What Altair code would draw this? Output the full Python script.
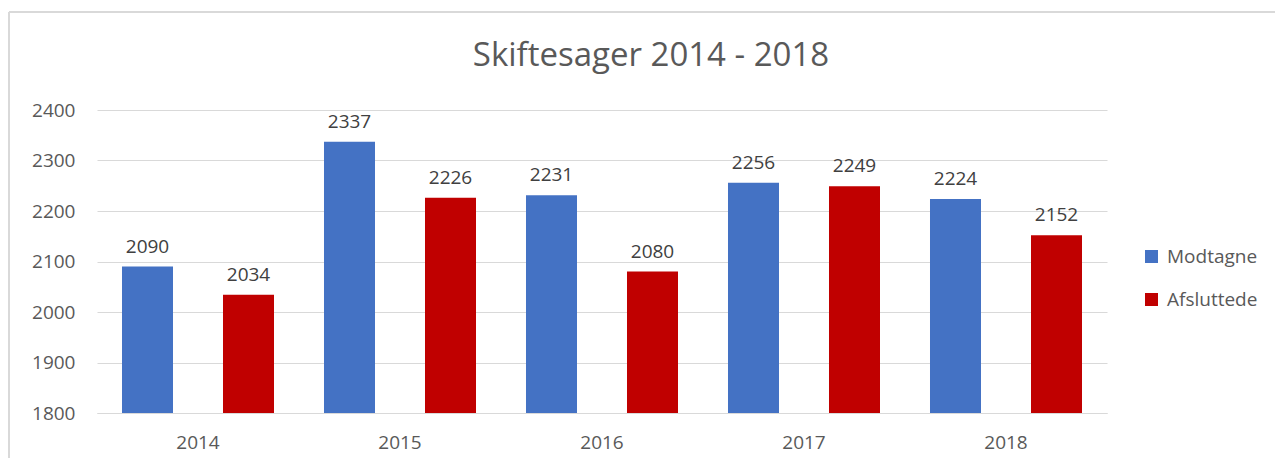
import altair as alt
import pandas as pd

years = ["2014", "2015", "2016", "2017", "2018"]
modtagne = [2090, 2337, 2231, 2256, 2224]
afsluttede = [2034, 2226, 2080, 2249, 2152]
series = ["Modtagne", "Afsluttede"]
colors = ["#4472C4", "#C00000"]

rows = []
for i, y in enumerate(years):
    rows.append({"year": y, "serie": series[0], "value": modtagne[i]})
    rows.append({"year": y, "serie": series[1], "value": afsluttede[i]})
df = pd.DataFrame(rows)

FONT = "Open Sans"

base = alt.Chart(df).encode(
    x=alt.X("year:N", sort=years,
            scale=alt.Scale(paddingInner=0, paddingOuter=0),
            axis=alt.Axis(title=None, labelAngle=0, ticks=False, domainColor="#d9d9d9",
                          labelPadding=20, labelFontSize=19, labelColor="#595959",
                          labelFont=FONT, grid=False, zindex=1)),
    xOffset=alt.XOffset("serie:N", sort=series,
                        scale=alt.Scale(paddingInner=0.495, paddingOuter=0.2475)),
)

bars = base.mark_bar(clip=True).encode(
    y=alt.Y("value:Q", scale=alt.Scale(domain=[1800, 2400], nice=False, zero=False),
            axis=alt.Axis(title=None, values=[1800, 1900, 2000, 2100, 2200, 2300, 2400],
                          format="d", ticks=False, domain=False, gridColor="#d9d9d9",
                          labelPadding=22, labelFontSize=19, labelColor="#595959",
                          labelFont=FONT)),
    y2=alt.datum(1800),
    color=alt.Color("serie:N", sort=series,
                    scale=alt.Scale(domain=series, range=colors),
                    legend=alt.Legend(title=None, orient="none", legendX=1045, legendY=137,
                                      symbolType="square", symbolSize=170,
                                      symbolStrokeWidth=0,
                                      labelFontSize=19, labelColor="#595959",
                                      labelFont=FONT, rowPadding=23, labelOffset=6)),
)

labels = base.mark_text(baseline="bottom", dy=-10, fontSize=19, color="#404040",
                        font=FONT).encode(
    y=alt.Y("value:Q"),
    text=alt.Text("value:Q"),
)

frame_data = alt.Data(values=[{"k": 1}])
top_line = alt.Chart(frame_data).mark_rule(color="#d9d9d9", strokeWidth=2, clip=False).encode(
    x=alt.value(-88), x2=alt.value(1180), y=alt.value(-98)
)
left_line = alt.Chart(frame_data).mark_rule(color="#d9d9d9", strokeWidth=2, clip=False).encode(
    x=alt.value(-88), y=alt.value(-98), y2=alt.value(360)
)

chart = alt.layer(top_line, left_line, bars, labels).properties(
    width=1010,
    height=303,
    title=alt.TitleParams("Skiftesager 2014 - 2018", fontSize=33, font=FONT,
                          fontWeight="normal", color="#595959", dx=49, offset=-62),
    autosize=alt.AutoSizeParams(type="none"),
    padding={"left": 89, "top": 102, "right": 168, "bottom": 45},
).configure_view(stroke=None)

chart.save("out.html", embed_options={"renderer": "svg", "actions": False})
